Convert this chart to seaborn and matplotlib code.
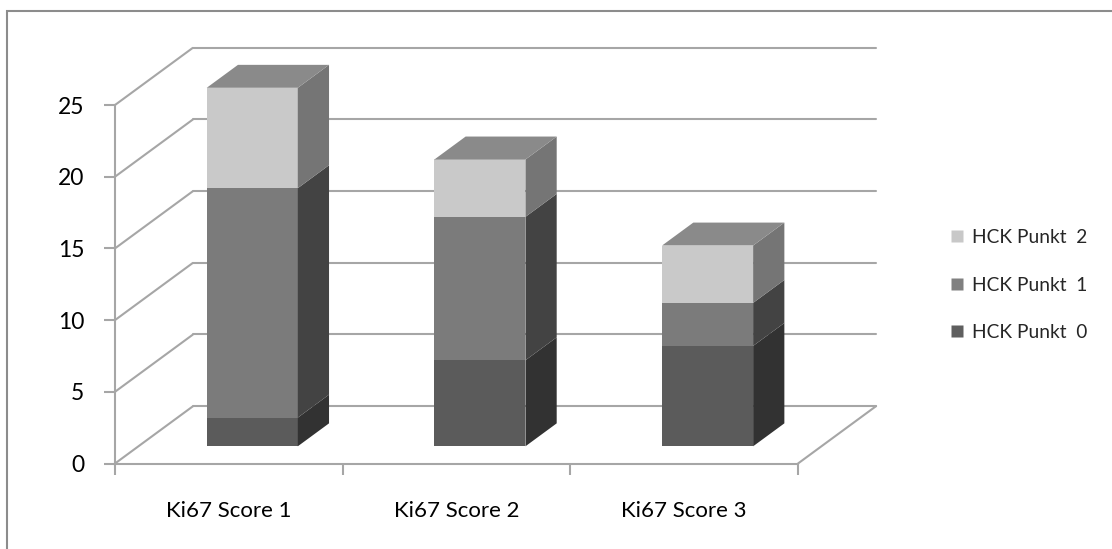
import numpy as np
import pandas as pd
import seaborn as sns
import matplotlib
matplotlib.use("Agg")
import matplotlib.pyplot as plt
import matplotlib.transforms as mtransforms
from matplotlib.patches import Polygon, Rectangle
from matplotlib.lines import Line2D

# ---- data -------------------------------------------------------------
categories = ["Ki67 Score 1", "Ki67 Score 2", "Ki67 Score 3"]
series_labels = ["HCK Punkt  0", "HCK Punkt  1", "HCK Punkt  2"]
punkt0 = [2, 6, 7]
punkt1 = [16, 10, 3]
punkt2 = [7, 4, 4]
y_ticks = [0, 5, 10, 15, 20, 25]

# ---- styling ----------------------------------------------------------
front_colors = ["#5b5b5b", "#7b7b7b", "#c9c9c9"]
side_colors = ["#323232", "#434343", "#757575"]
top_color = "#8a8a8a"
legend_colors = ["#5f5f5f", "#808080", "#c8c8c8"]
grid_color = "#a6a6a6"
border_color = "#8c8c8c"

sns.set_style("white")
plt.rcParams["font.family"] = ["Lato", "DejaVu Sans"]

W, H = 1112, 549
fig = plt.figure(figsize=(W / 100, H / 100), dpi=100)
# the axes rectangle is the front plane of the 3-D box
ax = fig.add_axes([115 / W, (H - 463.5) / H, (798 - 115) / W, (463.5 - 105) / H])

cols = ["p0", "p1", "p2"]
df = pd.DataFrame({"category": categories, "p0": punkt0, "p1": punkt1, "p2": punkt2})
cum = df[cols].cumsum(axis=1)
cum["category"] = categories

BAR_W = 0.40
DEPTH = np.array([0.343, 4.0])   # floor depth vector in data units (x, y)
FRONT = 0.30                     # bars start this far back on the floor
BAR_D = 0.40                     # bar depth as a share of the floor depth

shift = mtransforms.Affine2D().translate(*(FRONT * DEPTH)) + ax.transData
dd = BAR_D * DEPTH

# stacked bars: tallest cumulative layer first, shorter layers on top of it
layer_patches = {}
for i in reversed(range(3)):
    before = len(ax.patches)
    sns.barplot(data=cum, x="category", y=cols[i], order=categories,
                color=front_colors[i], saturation=1, width=BAR_W,
                linewidth=0, edgecolor="none", errorbar=None, ax=ax, zorder=3)
    layer_patches[i] = ax.patches[before:]
    for p in layer_patches[i]:
        p.set_transform(shift)
        p.set_clip_on(False)

# side and top faces built from the drawn bars
for i in range(3):
    for j, p in enumerate(layer_patches[i]):
        x0, w = p.get_x(), p.get_width()
        top = p.get_height()
        bottom = cum[cols[i - 1]].iloc[j] if i > 0 else 0
        side = [(x0 + w, bottom), (x0 + w + dd[0], bottom + dd[1]),
                (x0 + w + dd[0], top + dd[1]), (x0 + w, top)]
        ax.add_patch(Polygon(side, closed=True, facecolor=side_colors[i],
                             edgecolor="none", transform=shift,
                             clip_on=False, zorder=3))
        if i == 2:
            lid = [(x0, top), (x0 + w, top), (x0 + w + dd[0], top + dd[1]),
                   (x0 + dd[0], top + dd[1])]
            ax.add_patch(Polygon(lid, closed=True, facecolor=top_color,
                                 edgecolor="none", transform=shift,
                                 clip_on=False, zorder=3))

# walls: left-wall diagonals and back-wall gridlines
x_lo, x_hi = -0.5, 2.5
for v in y_ticks:
    ax.plot([x_lo, x_lo + DEPTH[0]], [v, v + DEPTH[1]], color=grid_color,
            lw=1.5, clip_on=False, zorder=1, solid_capstyle="butt")
    ax.plot([x_lo + DEPTH[0], x_hi + DEPTH[0]], [v + DEPTH[1]] * 2,
            color=grid_color, lw=1.5, clip_on=False, zorder=1)
# right edge of the floor
ax.plot([x_hi, x_hi + DEPTH[0]], [0, DEPTH[1]], color=grid_color, lw=1.5,
        clip_on=False, zorder=1)

# axes
ax.set_xlim(x_lo, x_hi)
ax.set_ylim(0, 25)
ax.set_xlabel("")
ax.set_ylabel("")
for s in ["top", "right"]:
    ax.spines[s].set_visible(False)
for s in ["left", "bottom"]:
    ax.spines[s].set_color(grid_color)
    ax.spines[s].set_linewidth(1.5)

ax.set_yticks(y_ticks)
ax.tick_params(axis="y", left=True, length=8, width=1.5, color=grid_color,
               labelsize=16.5, pad=14, direction="out", labelcolor="#000000")
ax.set_xticks(range(len(categories)))
ax.set_xticklabels(categories)
ax.set_xticks(np.arange(x_lo, x_hi + 0.01, 1.0), minor=True)
ax.tick_params(axis="x", which="major", length=0, labelsize=16, pad=27,
               labelcolor="#000000")
ax.tick_params(axis="x", which="minor", bottom=True, length=8, width=1.5,
               color=grid_color, direction="out")

# legend (top series listed first)
handles = [Line2D([], [], marker="s", linestyle="none", markersize=8,
                  markerfacecolor=legend_colors[i], markeredgecolor="none")
           for i in (2, 1, 0)]
labels = [series_labels[i] for i in (2, 1, 0)]
fig.legend(handles, labels, loc="center left",
           bbox_to_anchor=(939 / W, 1 - 285 / H), frameon=False,
           fontsize=13.8, labelspacing=1.6, handletextpad=0.3,
           handlelength=0.9, borderpad=0)

# chart-area border
fig.patches.append(Rectangle((7 / W, -0.1), 1.2, 1 - 11 / H + 0.1,
                             transform=fig.transFigure, fill=False,
                             edgecolor=border_color, linewidth=1.5))

fig.savefig("out.png", dpi=100)
